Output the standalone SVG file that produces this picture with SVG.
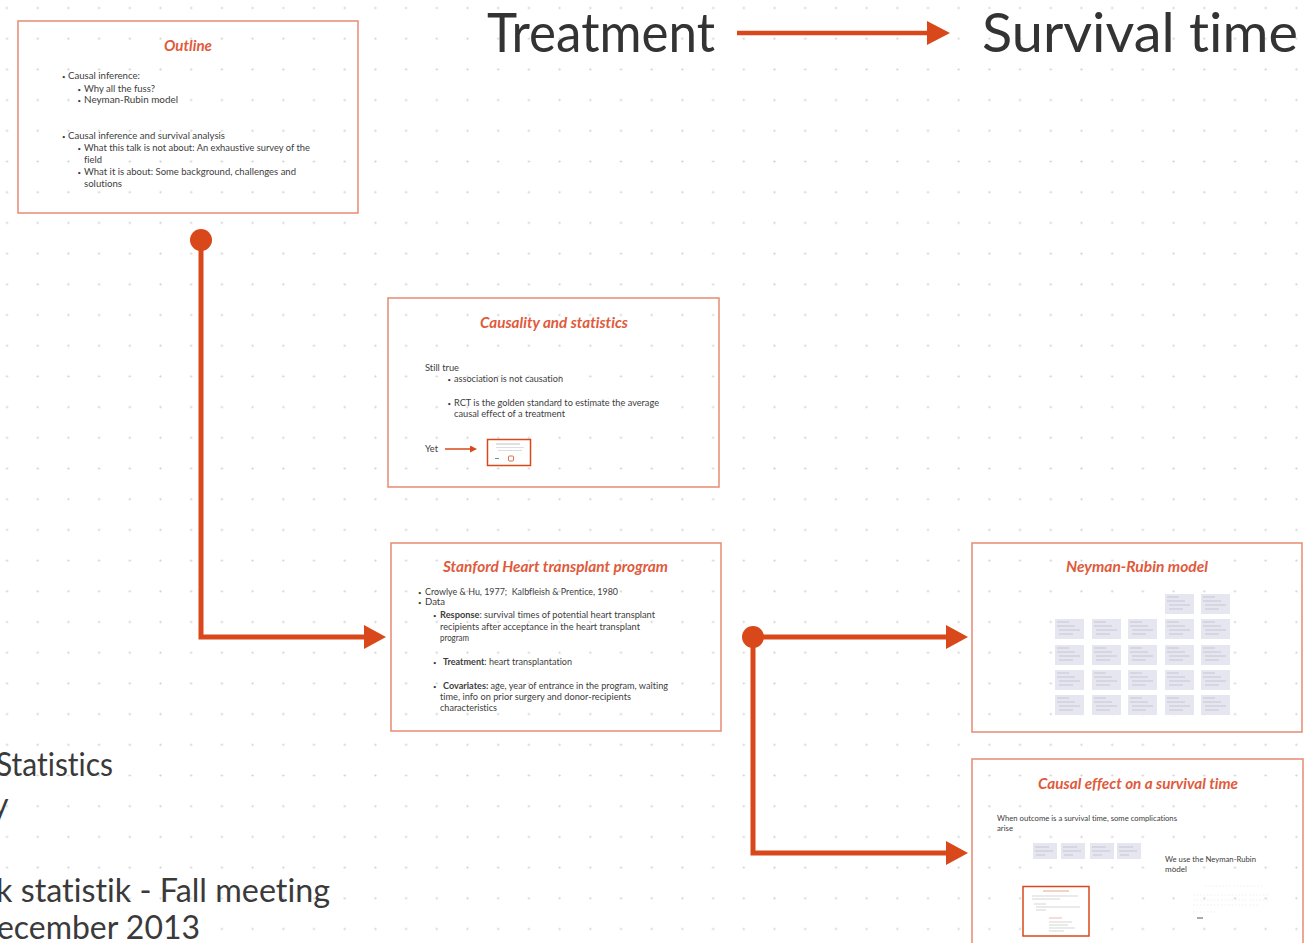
<svg xmlns="http://www.w3.org/2000/svg" xmlns:xlink="http://www.w3.org/1999/xlink" width="1312" height="943" viewBox="0 0 1312 943">
<style>
text{font-variant-ligatures:none;font-feature-settings:"liga" 0}
.box{fill:none;stroke:#e8917b;stroke-width:1.6}
.ttl{font-family:Lato,"Open Sans",sans-serif;font-style:italic;font-weight:700;font-size:14.5px;fill:#e05a3c;text-anchor:middle}
.bd{font-family:Lato,"Open Sans",sans-serif;font-size:8.5px;fill:#3d3d3d}
.sm{font-family:Lato,"Open Sans",sans-serif;font-size:7.5px;fill:#3d3d3d}
.bu{font-family:Lato,"Open Sans",sans-serif;font-size:6px;fill:#3d3d3d}
.big{font-family:Lato,"Open Sans",sans-serif;font-size:54px;fill:#333}
.side{font-family:Lato,"Open Sans",sans-serif;font-size:32px;fill:#3a3a3a}
.conn{fill:none;stroke:#d9481b;stroke-width:5}
.th{fill:#e6e6f1}
.tl{stroke:#a6a6b6;stroke-width:0.5}
</style>
<defs>
<pattern id="dots" patternUnits="userSpaceOnUse" x="-8.35" y="-7.35" width="30.7" height="30.7">
<circle cx="15.35" cy="15.35" r="1.1" fill="#cfcfcf"/>
</pattern>
<marker id="ah" markerUnits="userSpaceOnUse" markerWidth="24" markerHeight="26" refX="2" refY="12" orient="auto">
<path d="M0,0 L22,12 L0,24 z" fill="#d9481b"/>
</marker>
<marker id="ah2" markerUnits="userSpaceOnUse" markerWidth="26" markerHeight="26" refX="2" refY="12" orient="auto">
<path d="M0,0 L23,12 L0,24 z" fill="#d9481b"/>
</marker>
<marker id="ah3" markerUnits="userSpaceOnUse" markerWidth="9" markerHeight="8" refX="1" refY="3.5" orient="auto">
<path d="M0,0 L7,3.5 L0,7 z" fill="#d9481b"/>
</marker>
<g id="thumb">
<rect class="th" width="29" height="20"/>
<line class="tl" x1="2" y1="3" x2="14" y2="3"/>
<line class="tl" x1="2" y1="7" x2="20" y2="7"/>
<line class="tl" x1="4" y1="11" x2="25" y2="11"/>
<line class="tl" x1="4" y1="15" x2="18" y2="15"/>
</g>
<g id="thumbs">
<rect class="th" width="24" height="16"/>
<line class="tl" x1="2" y1="4" x2="16" y2="4"/>
<line class="tl" x1="2" y1="8" x2="20" y2="8"/>
<line class="tl" x1="3" y1="12" x2="12" y2="12"/>
</g>
</defs>
<rect width="1312" height="943" fill="#ffffff"/>
<rect width="1312" height="943" fill="url(#dots)"/>

<g id="header">
<text class="big" x="487" y="52" textLength="228" lengthAdjust="spacingAndGlyphs">Treatment</text>
<text class="big" x="982" y="52" textLength="316" lengthAdjust="spacingAndGlyphs">Survival time</text>
</g>

<g id="side-text">
<text class="side" x="-4" y="776" textLength="117" lengthAdjust="spacingAndGlyphs">Statistics</text>
<text class="side" x="-8" y="816">y</text>
<text class="side" x="-4" y="902" textLength="334" lengthAdjust="spacingAndGlyphs">k statistik - Fall meeting</text>
<text class="side" x="-3" y="939" textLength="203" lengthAdjust="spacingAndGlyphs">ecember 2013</text>
</g>

<g id="connectors">
<path class="conn" style="stroke-width:4.5" d="M737,33 H929" marker-end="url(#ah2)"/>
<path class="conn" d="M201,240 V637 H366" marker-end="url(#ah)"/>
<circle cx="201" cy="240" r="11" fill="#d9481b"/>
<path class="conn" d="M753,637 H948" marker-end="url(#ah)"/>
<path class="conn" d="M753,637 V853 H948" marker-end="url(#ah)"/>
<circle cx="753" cy="637" r="11" fill="#d9481b"/>
</g>

<g id="node-outline">
<rect class="box" x="18" y="21" width="340" height="192"/>
<text class="ttl" x="188" y="51" textLength="48" lengthAdjust="spacingAndGlyphs">Outline</text>
<text class="bu" x="62" y="79">•</text>
<text class="bd" x="68" y="79" textLength="72" lengthAdjust="spacingAndGlyphs">Causal inference:</text>
<text class="bu" x="77.5" y="91.5">•</text>
<text class="bd" x="84" y="91.5" textLength="71" lengthAdjust="spacingAndGlyphs">Why all the fuss?</text>
<text class="bu" x="77.5" y="103">•</text>
<text class="bd" x="84" y="103" textLength="94" lengthAdjust="spacingAndGlyphs">Neyman-Rubin model</text>
<text class="bu" x="62" y="139">•</text>
<text class="bd" x="68" y="139" textLength="157" lengthAdjust="spacingAndGlyphs">Causal inference and survival analysis</text>
<text class="bu" x="77.5" y="151">•</text>
<text class="bd" x="84" y="151" textLength="226" lengthAdjust="spacingAndGlyphs">What this talk is not about: An exhaustive survey of the</text>
<text class="bd" x="84" y="163" textLength="18" lengthAdjust="spacingAndGlyphs">field</text>
<text class="bu" x="77.5" y="175">•</text>
<text class="bd" x="84" y="175" textLength="212" lengthAdjust="spacingAndGlyphs">What it is about: Some background, challenges and</text>
<text class="bd" x="84" y="187" textLength="38" lengthAdjust="spacingAndGlyphs">solutions</text>
</g>

<g id="node-causality">
<rect class="box" x="388" y="298" width="331" height="189"/>
<text class="ttl" x="554" y="328" textLength="148" lengthAdjust="spacingAndGlyphs">Causality and statistics</text>
<text class="bd" x="425" y="371" textLength="34" lengthAdjust="spacingAndGlyphs">Still true</text>
<text class="bu" x="447.5" y="382">•</text>
<text class="bd" x="454" y="382" textLength="109" lengthAdjust="spacingAndGlyphs">association is not causation</text>
<text class="bu" x="447.5" y="406">•</text>
<text class="bd" x="454" y="406" textLength="205" lengthAdjust="spacingAndGlyphs">RCT is the golden standard to estimate the average</text>
<text class="bd" x="454" y="417" textLength="111" lengthAdjust="spacingAndGlyphs">causal effect of a treatment</text>
<text class="bd" x="425" y="452" textLength="13" lengthAdjust="spacingAndGlyphs">Yet</text>
<path d="M445,449 H471" stroke="#d9481b" stroke-width="1.5" fill="none" marker-end="url(#ah3)"/>
<rect x="487.5" y="439.5" width="43" height="26" fill="#ffffff" stroke="#d9481b" stroke-width="1.5"/>
<line x1="496" y1="444" x2="520" y2="444" stroke="#999" stroke-width="0.6"/>
<line x1="496" y1="447.5" x2="524" y2="447.5" stroke="#bbb" stroke-width="0.5"/>
<line x1="498" y1="450.5" x2="522" y2="450.5" stroke="#bbb" stroke-width="0.5"/>
<line x1="495" y1="458.5" x2="499" y2="458.5" stroke="#666" stroke-width="0.8"/>
<rect x="508.5" y="456" width="5" height="5" fill="none" stroke="#d9481b" stroke-width="0.8" rx="1"/>
</g>

<g id="node-stanford">
<rect class="box" x="391" y="543" width="330" height="188"/>
<text class="ttl" x="555.5" y="572" textLength="225" lengthAdjust="spacingAndGlyphs">Stanford Heart transplant program</text>
<text class="bu" x="418" y="595">•</text>
<text class="bd" x="425" y="595" textLength="193" lengthAdjust="spacingAndGlyphs" xml:space="preserve">Crowlye &amp; Hu, 1977;  Kalbfleish &amp; Prentice, 1980</text>
<text class="bu" x="418" y="605">•</text>
<text class="bd" x="425" y="605" textLength="20" lengthAdjust="spacingAndGlyphs">Data</text>
<text class="bu" x="433" y="618">•</text>
<text class="bd" x="440" y="618" textLength="215" lengthAdjust="spacingAndGlyphs"><tspan font-weight="700">Response</tspan>: survival times of potential heart transplant</text>
<text class="bd" x="440" y="630" textLength="200" lengthAdjust="spacingAndGlyphs">recipients after acceptance in the heart transplant</text>
<text class="bd" x="440" y="641" textLength="29" lengthAdjust="spacingAndGlyphs">program</text>
<text class="bu" x="433" y="665">•</text>
<text class="bd" x="443" y="665" textLength="129" lengthAdjust="spacingAndGlyphs"><tspan font-weight="700">Treatment</tspan>: heart transplantation</text>
<text class="bu" x="433" y="689">•</text>
<text class="bd" x="443" y="689" textLength="225" lengthAdjust="spacingAndGlyphs"><tspan font-weight="700">Covariates:</tspan> age, year of entrance in the program, waiting</text>
<text class="bd" x="440" y="700" textLength="191" lengthAdjust="spacingAndGlyphs">time, info on prior surgery and donor-recipients</text>
<text class="bd" x="440" y="711" textLength="57" lengthAdjust="spacingAndGlyphs">characteristics</text>
</g>

<g id="node-neyman-rubin">
<rect class="box" x="972" y="543" width="330" height="189"/>
<text class="ttl" x="1137" y="572" textLength="142" lengthAdjust="spacingAndGlyphs">Neyman-Rubin model</text>
<use xlink:href="#thumb" x="1165" y="594"/>
<use xlink:href="#thumb" x="1201" y="594"/>
<use xlink:href="#thumb" x="1055" y="619"/>
<use xlink:href="#thumb" x="1092" y="619"/>
<use xlink:href="#thumb" x="1128" y="619"/>
<use xlink:href="#thumb" x="1165" y="619"/>
<use xlink:href="#thumb" x="1201" y="619"/>
<use xlink:href="#thumb" x="1055" y="645"/>
<use xlink:href="#thumb" x="1092" y="645"/>
<use xlink:href="#thumb" x="1128" y="645"/>
<use xlink:href="#thumb" x="1165" y="645"/>
<use xlink:href="#thumb" x="1201" y="645"/>
<use xlink:href="#thumb" x="1055" y="670"/>
<use xlink:href="#thumb" x="1092" y="670"/>
<use xlink:href="#thumb" x="1128" y="670"/>
<use xlink:href="#thumb" x="1165" y="670"/>
<use xlink:href="#thumb" x="1201" y="670"/>
<use xlink:href="#thumb" x="1055" y="695"/>
<use xlink:href="#thumb" x="1092" y="695"/>
<use xlink:href="#thumb" x="1128" y="695"/>
<use xlink:href="#thumb" x="1165" y="695"/>
<use xlink:href="#thumb" x="1201" y="695"/>
</g>

<g id="node-causal-effect">
<rect class="box" x="972" y="759" width="331" height="190"/>
<text class="ttl" x="1138" y="789" textLength="200" lengthAdjust="spacingAndGlyphs">Causal effect on a survival time</text>
<text class="sm" x="997" y="820.5" textLength="180" lengthAdjust="spacingAndGlyphs">When outcome is a survival time, some complications</text>
<text class="sm" x="997" y="830.5" textLength="16" lengthAdjust="spacingAndGlyphs">arise</text>
<use xlink:href="#thumbs" x="1033" y="843"/>
<use xlink:href="#thumbs" x="1061" y="843"/>
<use xlink:href="#thumbs" x="1090" y="843"/>
<use xlink:href="#thumbs" x="1117" y="843"/>
<text class="sm" x="1165" y="861.5" textLength="91" lengthAdjust="spacingAndGlyphs">We use the Neyman-Rubin</text>
<text class="sm" x="1165" y="871.5" textLength="22" lengthAdjust="spacingAndGlyphs">model</text>
<rect x="1023" y="886.5" width="66" height="49.5" fill="#ffffff" stroke="#d9481b" stroke-width="1.5"/>
<line x1="1043" y1="891" x2="1069" y2="891" stroke="#e58a72" stroke-width="0.8"/>
<line x1="1032" y1="896" x2="1078" y2="896" stroke="#aaa" stroke-width="0.5"/>
<line x1="1032" y1="899" x2="1060" y2="899" stroke="#aaa" stroke-width="0.5"/>
<line x1="1034" y1="904" x2="1046" y2="904" stroke="#aaa" stroke-width="0.5"/>
<line x1="1036" y1="907" x2="1080" y2="907" stroke="#aaa" stroke-width="0.5"/>
<line x1="1036" y1="910" x2="1046" y2="910" stroke="#aaa" stroke-width="0.5"/>
<line x1="1049" y1="918" x2="1062" y2="918" stroke="#e58a72" stroke-width="0.6"/>
<line x1="1049" y1="922" x2="1072" y2="922" stroke="#aaa" stroke-width="0.5"/>
<line x1="1049" y1="925" x2="1068" y2="925" stroke="#aaa" stroke-width="0.5"/>
<line x1="1049" y1="928" x2="1075" y2="928" stroke="#aaa" stroke-width="0.5"/>
<line x1="1049" y1="931" x2="1064" y2="931" stroke="#aaa" stroke-width="0.5"/>
<g stroke="#e6e6ee" stroke-width="0.6" stroke-dasharray="1.5 2">
<line x1="1205" y1="886" x2="1262" y2="886"/>
<line x1="1193" y1="895" x2="1268" y2="895"/>
<line x1="1193" y1="900" x2="1268" y2="900"/>
<line x1="1193" y1="905" x2="1260" y2="905"/>
<line x1="1193" y1="912" x2="1215" y2="912"/>
</g>
<line x1="1197" y1="918" x2="1203" y2="918" stroke="#555" stroke-width="1"/>
</g>
</svg>
